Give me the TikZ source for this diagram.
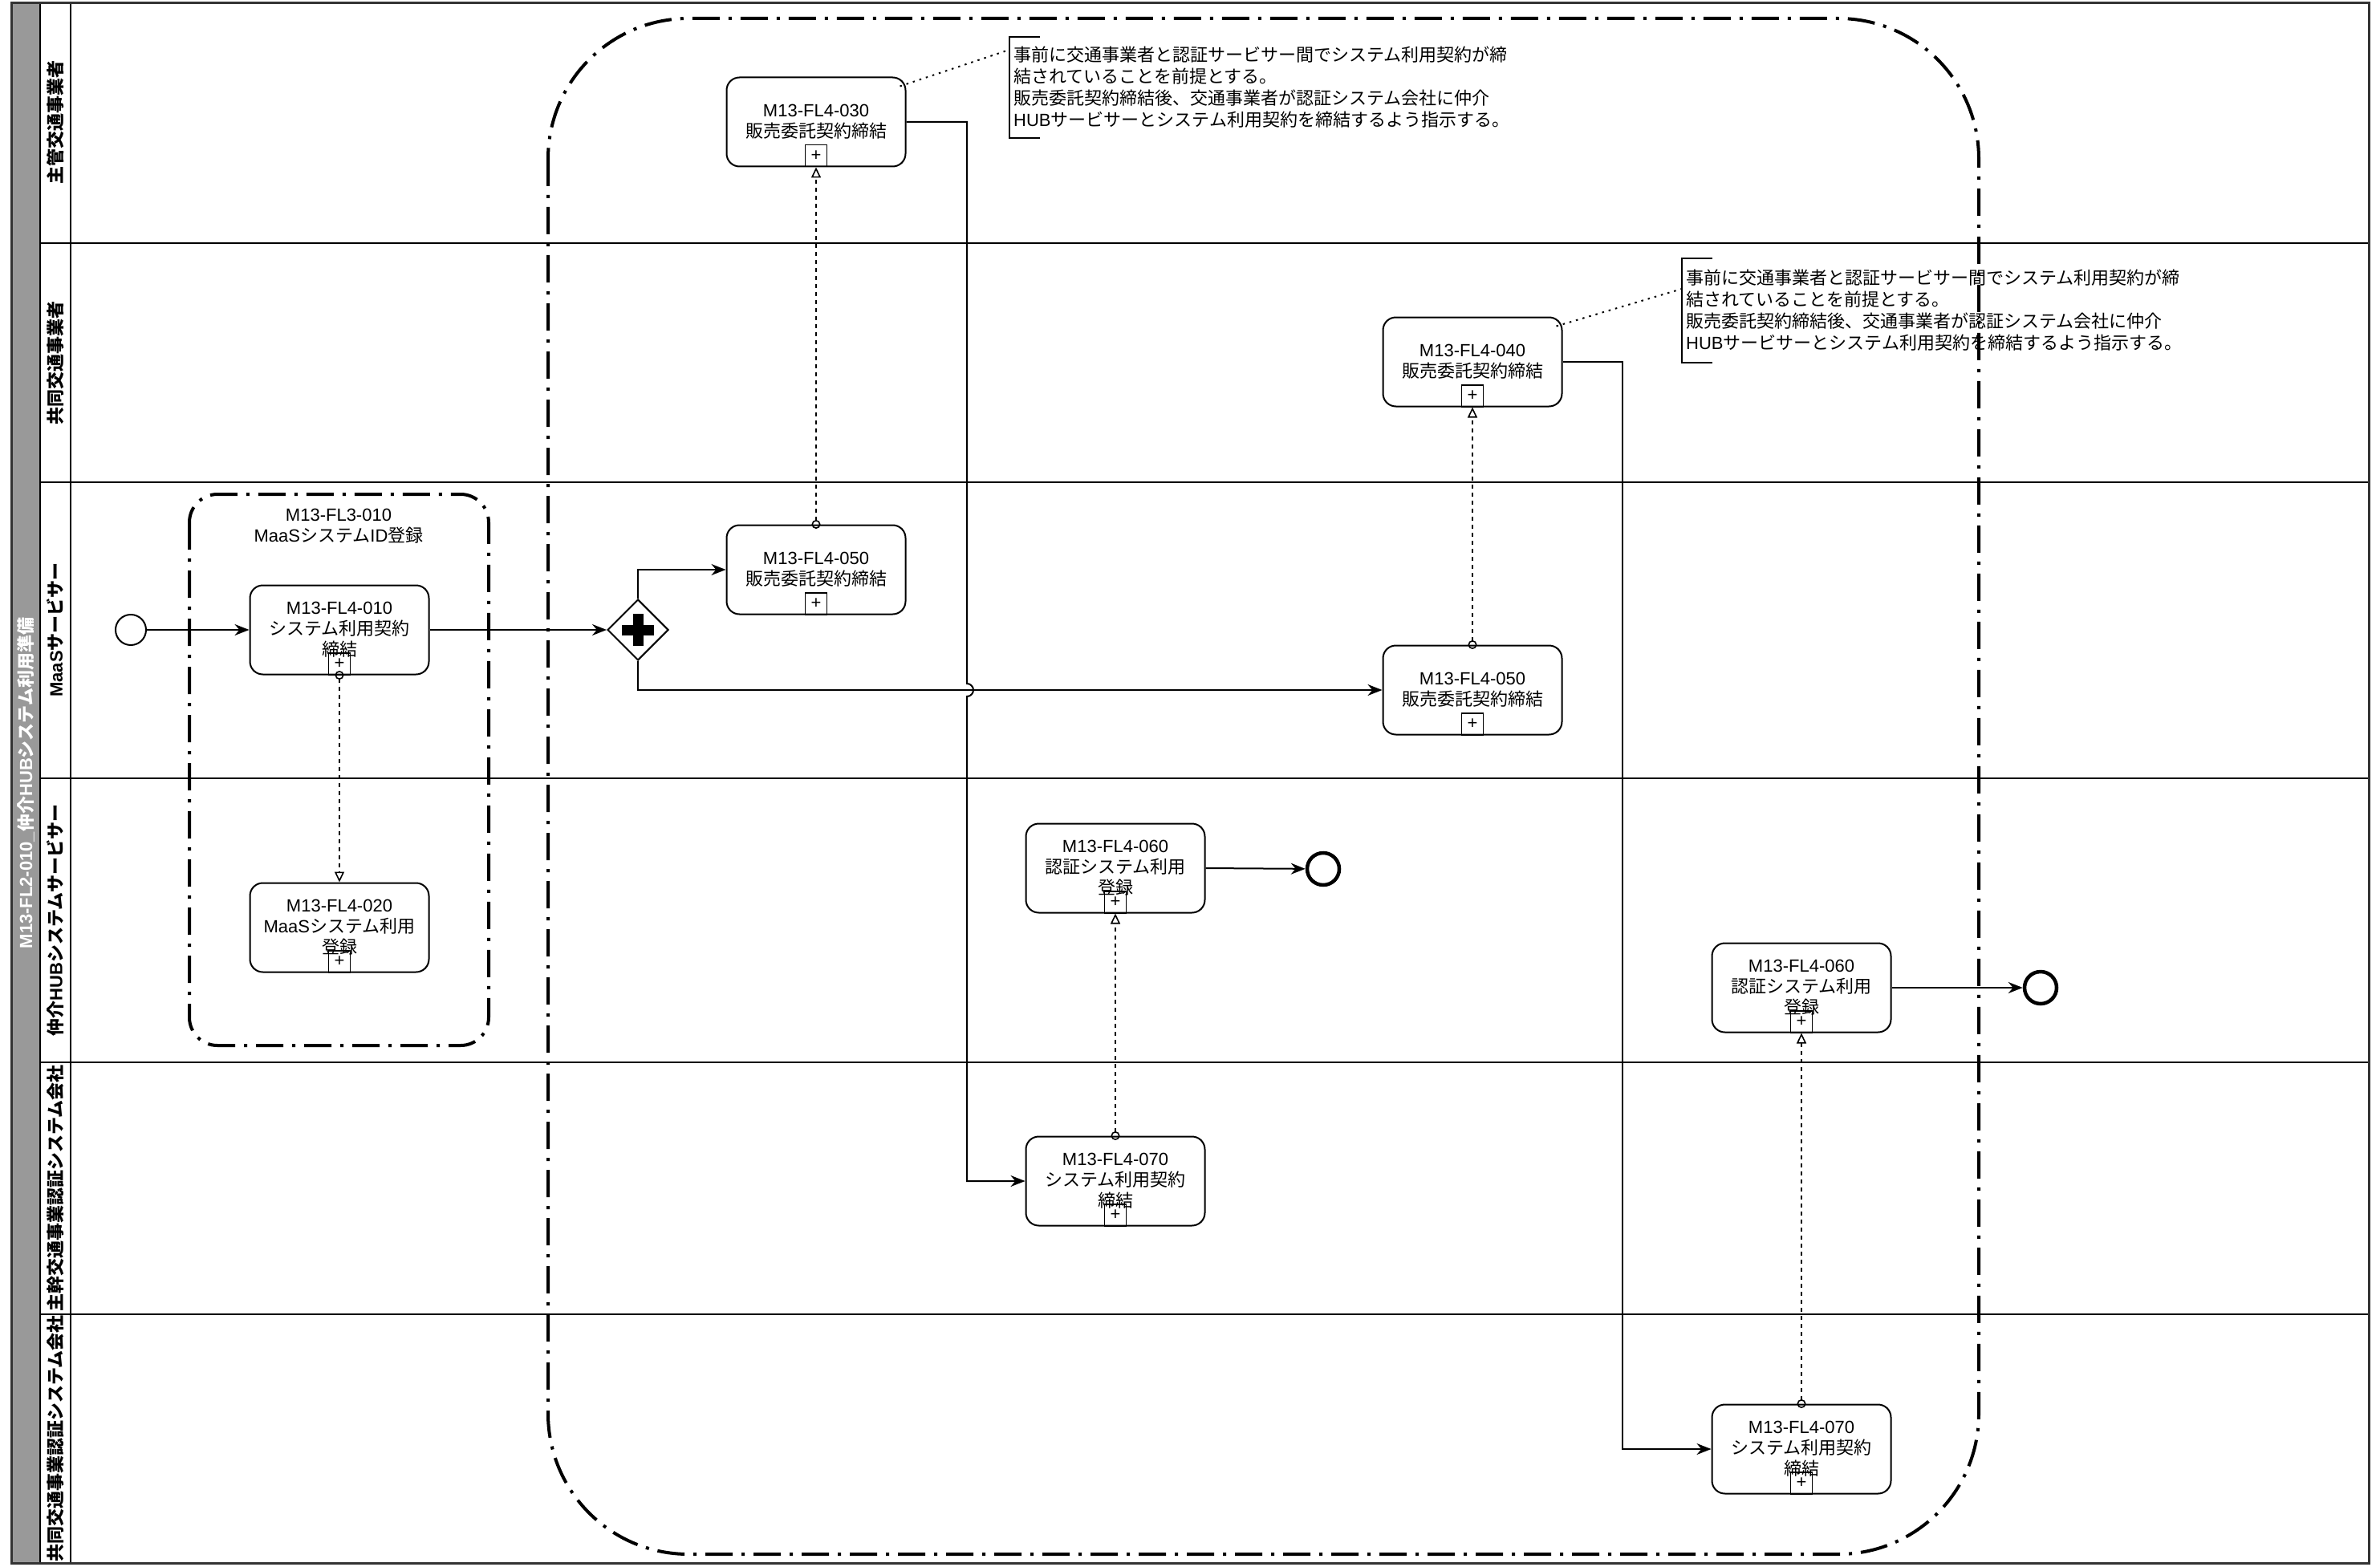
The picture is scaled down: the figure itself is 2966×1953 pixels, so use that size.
\documentclass[tikz,border=0pt]{standalone}
\usepackage{fontspec}
\setmainfont{Liberation Sans}
\newfontfamily\jpf{Noto Sans CJK JP}
\newcommand\JP[1]{{\jpf #1}}
\usetikzlibrary{arrows.meta,shapes.geometric,calc}
\begin{document}
\begin{tikzpicture}[x=1pt,y=-1pt,
  every node/.style={font=\fontsize{22pt}{26pt}\selectfont},
  task/.style={draw, line width=2pt, rounded corners=16pt, minimum width=223pt, minimum height=111pt, align=center, inner sep=0pt, fill=white},
  mk/.style={draw, line width=1.6pt, minimum size=27pt, inner sep=0pt, anchor=south, font=\fontsize{22pt}{22pt}\selectfont},
  flow/.style={line width=2pt, -{Stealth[length=18pt,width=14pt]}},
  msg/.style={line width=1.6pt, dash pattern=on 5pt off 5pt, {Circle[open,length=11pt,width=11pt]}-{Triangle[open,length=13pt,width=12pt]}, shorten <=-5.5pt},
  grp/.style={line width=4pt, dash pattern=on 34pt off 11pt on 4pt off 11pt},
  lanelbl/.style={rotate=90, font=\bfseries\fontsize{22pt}{26pt}\selectfont},
  ann/.style={align=left, anchor=west, inner sep=0pt, font=\fontsize{22pt}{27pt}\selectfont},
  assoc/.style={line width=2pt, dash pattern=on 2.5pt off 6pt}]
\fill[white] (0,0) rectangle (2966,1953);
\useasboundingbox (0,0) rectangle (2966,1953);
% pool
\fill[gray!80] (14,4) rectangle (50,1948);
\foreach \yy in {303,601,970,1324,1638} \draw[line width=2.5pt] (50,\yy) -- (2952,\yy);
\draw[line width=2.5pt] (50,4) -- (50,1948);
\draw[line width=2.5pt] (88,4) -- (88,1948);
\draw[line width=3pt, draw=black!80] (14,4) rectangle (2952,1948);
\node[lanelbl, text=white] (title) at (32,976) {M13-FL2-010\_\JP{仲介}HUB\JP{システム利用準備}};
\node[lanelbl] (L1) at (69,153) {\JP{主管交通事業者}};
\node[lanelbl] (L2) at (69,452) {\JP{共同交通事業者}};
\node[lanelbl] (L3) at (69,785) {MaaS\JP{サービサー}};
\node[lanelbl] (L4) at (69,1147) {\JP{仲介}HUB\JP{システムサービサー}};
\node[lanelbl] (L5) at (69,1481) {\JP{主幹交通事業認証システム会社}};
\node[lanelbl] (L6) at (69,1793) {\JP{共同交通事業認証システム会社}};
% groups
\draw[grp, rounded corners=175pt] (683,23) rectangle (2466,1937);
\draw[grp, rounded corners=35pt] (236,616) rectangle (609,1303);
\node[align=center] (g1lbl) at (422,656) {M13-FL3-010\\MaaS\JP{システム}ID\JP{登録}};
% coordinates
\coordinate (j1) at (1205,0);
\coordinate (jA) at (1205,852);
\coordinate (j2) at (2022,0);
\coordinate (a1) at (1258,62);
\coordinate (a2) at (2096,360);
% events and gateway
\node[circle, draw, line width=2pt, minimum size=38pt, inner sep=0pt] (start) at (163,785) {};
\node[circle, draw, line width=4.5pt, minimum size=40pt, inner sep=0pt] (end1) at (1649,1083) {};
\node[circle, draw, line width=4.5pt, minimum size=40pt, inner sep=0pt] (end2) at (2543,1231) {};
\node[diamond, draw, line width=2pt, minimum width=76pt, minimum height=76pt, inner sep=0pt, fill=white] (gw) at (795,785) {};
\fill ([xshift=-20pt,yshift=-6.5pt]gw.center) rectangle ([xshift=20pt,yshift=6.5pt]gw.center);
\fill ([xshift=-6.5pt,yshift=-20pt]gw.center) rectangle ([xshift=6.5pt,yshift=20pt]gw.center);
% tasks
\node[task] (t030) at (1017,152) {M13-FL4-030\\\JP{販売委託契約締結}};
\node[task] (t050a) at (1017,710) {M13-FL4-050\\\JP{販売委託契約締結}};
\node[task] (t040) at (1835,451) {M13-FL4-040\\\JP{販売委託契約締結}};
\node[task] (t050b) at (1835,860) {M13-FL4-050\\\JP{販売委託契約締結}};
\node[task] (t010) at (423,785) {M13-FL4-010\\\JP{システム利用契約}\\\JP{締結}};
\node[task] (t020) at (423,1156) {M13-FL4-020\\MaaS\JP{システム利用}\\\JP{登録}};
\node[task] (t060a) at (1390,1082) {M13-FL4-060\\\JP{認証システム利用}\\\JP{登録}};
\node[task] (t060b) at (2245,1231) {M13-FL4-060\\\JP{認証システム利用}\\\JP{登録}};
\node[task] (t070a) at (1390,1472) {M13-FL4-070\\\JP{システム利用契約}\\\JP{締結}};
\node[task] (t070b) at (2245,1806) {M13-FL4-070\\\JP{システム利用契約}\\\JP{締結}};
\foreach \t in {t030,t050a,t040,t050b,t010,t020,t060a,t060b,t070a,t070b}
  \node[mk] (\t mk) at (\t.south) {+};
% sequence flows
\draw[flow] (start) -- (t010);
\draw[flow] (t010.east) -- (gw.west);
\draw[flow] (gw.north) |- (t050a.west);
\draw[flow] (gw.south) |- (t050b.west);
\draw[flow] (t030.east) -- (t030.east -| j1) -- (jA) arc[start angle=90, end angle=-90, radius=8pt] -- (t070a.west -| j1) -- (t070a.west);
\draw[flow] (t040.east) -- (t040.east -| j2) -- (t070b.west -| j2) -- (t070b.west);
\draw[flow] (t060a.east) -- (end1);
\draw[flow] (t060b.east) -- (end2);
% message flows
\draw[msg] (t050a.north) -- (t030.south);
\draw[msg] (t010.south) -- (t020.north);
\draw[msg] (t050b.north) -- (t040.south);
\draw[msg] (t070a.north) -- (t060a.south);
\draw[msg] (t070b.north) -- (t060b.south);
% annotations
\draw[line width=2pt] (1296,46) -- (1258,46) -- (1258,172) -- (1296,172);
\node[ann] (ann1) at (1263,109) {\JP{事前に交通事業者と認証サービサー間でシステム利用契約が締}\\\JP{結されていることを前提とする。}\\\JP{販売委託契約締結後、交通事業者が認証システム会社に仲介}\\HUB\JP{サービサーとシステム利用契約を締結するよう指示する。}};
\draw[line width=2pt] (2134,322) -- (2096,322) -- (2096,452) -- (2134,452);
\node[ann] (ann2) at (2101,387) {\JP{事前に交通事業者と認証サービサー間でシステム利用契約が締}\\\JP{結されていることを前提とする。}\\\JP{販売委託契約締結後、交通事業者が認証システム会社に仲介}\\HUB\JP{サービサーとシステム利用契約を締結するよう指示する。}};
\draw[assoc] ([xshift=-8pt,yshift=-12pt]t030.north east) -- (a1);
\draw[assoc] ([xshift=-8pt,yshift=-12pt]t040.north east) -- (a2);
\end{tikzpicture}
\end{document}
